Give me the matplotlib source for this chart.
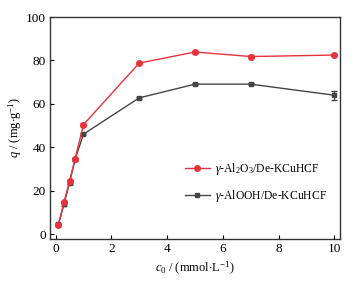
import matplotlib
matplotlib.use("Agg")
import matplotlib.pyplot as plt
from matplotlib.lines import Line2D

x = [0.1, 0.3, 0.5, 0.7, 1, 3, 5, 7, 10]
q_al2o3 = [4.4, 14.7, 24.4, 34.7, 50.5, 78.8, 83.9, 81.8, 82.5]
err_al2o3 = [0.5, 0.6, 0.6, 0.6, 0.6, 0.6, 0.6, 0.6, 0.6]
q_alooh = [4.6, 13.8, 23.7, 34.5, 46.1, 62.8, 69.1, 69.1, 64.0]
err_alooh = [0.5, 0.6, 0.6, 0.6, 0.6, 0.6, 0.6, 0.6, 2.0]
xticks = [0, 2, 4, 6, 8, 10]
yticks = [0, 20, 40, 60, 80, 100]
labels = [r'$\mathit{γ}$-Al$_2$O$_3$/De-KCuHCF', r'$\mathit{γ}$-AlOOH/De-KCuHCF']

plt.rcParams['font.family'] = ['Liberation Serif', 'DejaVu Serif']
plt.rcParams['mathtext.fontset'] = 'custom'
plt.rcParams['mathtext.rm'] = 'Liberation Serif'
plt.rcParams['mathtext.it'] = 'Liberation Serif:italic'

fig = plt.figure(figsize=(3.55, 2.81), dpi=100)
ax = fig.add_axes([50/355, 1-238.7/281, 290/355, (238.7-17)/281])

red = '#E8333C'
dark = '#454545'
ax.errorbar(x, q_alooh, yerr=err_alooh, color=dark, marker='s', ms=3.5, lw=1.0,
            capsize=2, elinewidth=0.8, zorder=2)
ax.errorbar(x, q_al2o3, yerr=err_al2o3, color=red, marker='o', ms=4, lw=1.0,
            capsize=2, elinewidth=0.8, zorder=3)

ax.set_xlim(-0.2, 10.2)
ax.set_ylim(-2, 100)
ax.set_xticks(xticks)
ax.set_yticks(yticks)
ax.tick_params(direction='in', length=3, width=0.8, labelsize=9.5, pad=3)
for s in ax.spines.values():
    s.set_linewidth(1.0)
    s.set_color('#333333')

ax.set_xlabel(r'$c_0$ / (mmol$\cdot$L$^{-1}$)', fontsize=9, labelpad=4)
ax.set_ylabel(r'$q$ / (mg$\cdot$g$^{-1}$)', fontsize=9, labelpad=1)

handles = [Line2D([], [], color=red, marker='o', ms=4, lw=1.0),
           Line2D([], [], color=dark, marker='s', ms=3.5, lw=1.0)]
ax.legend(handles, labels, loc='center left', bbox_to_anchor=(0.43, 0.255),
          frameon=False, fontsize=8.4, handlelength=2.1, labelspacing=0.95,
          handletextpad=0.45)

fig.savefig('out.png', dpi=100)
